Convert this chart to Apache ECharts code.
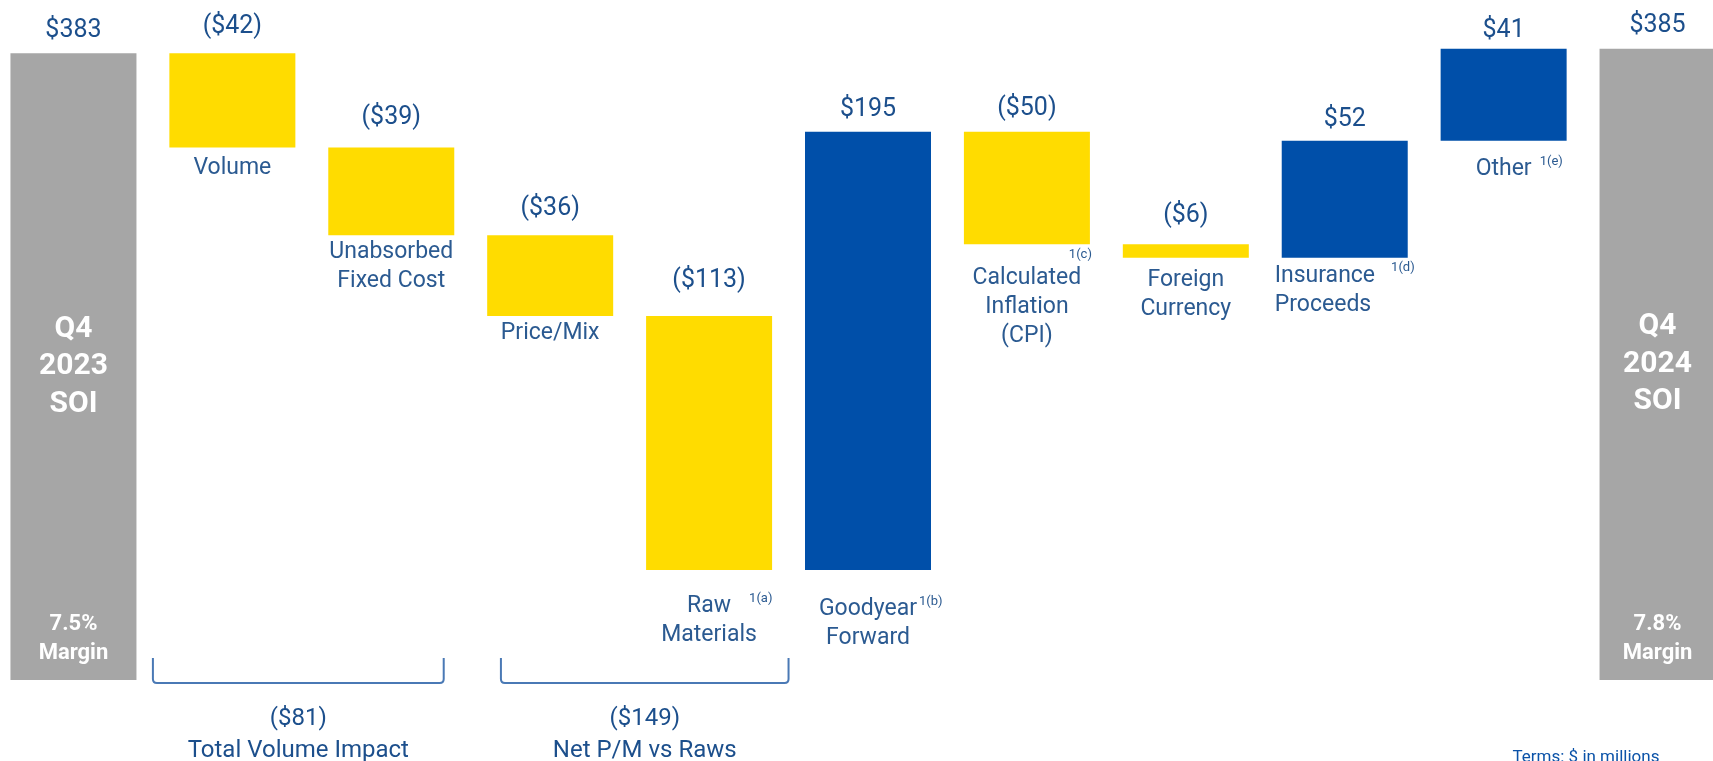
<!DOCTYPE html>
<html>
<head>
<meta charset="utf-8">
<script src="https://cdn.jsdelivr.net/npm/echarts@6/dist/echarts.min.js"></script>
<style>
html,body{margin:0;padding:0;background:#ffffff;overflow:hidden;width:1713px;height:761px;}
#chart{position:absolute;left:-6.5px;top:0;width:1748px;height:761px;}
</style>
</head>
<body>
<div id="chart"></div>
<script>
// ---------------- DATA ----------------
const categories = ['Q4 2023 SOI', 'Volume', 'Unabsorbed\nFixed Cost', 'Price/Mix', 'Raw\nMaterials',
  'Goodyear\nForward', 'Calculated\nInflation\n(CPI)', 'Foreign\nCurrency', 'Insurance\nProceeds', 'Other', 'Q4 2024 SOI'];
const startValue = 383;
const endValue = 385;
const changes = [-42, -39, -36, -113, 195, -50, -6, 52, 41];   // Volume ... Other
const totalTitles = ['Q4\n2023\nSOI', 'Q4\n2024\nSOI'];
const totalMargins = ['7.5%\nMargin', '7.8%\nMargin'];
const footnotes = ['', '', '', '', '1(a)', '1(b)', '1(c)', '', '1(d)', '1(e)', ''];
const bracketFrom = [1, 3];
const bracketTo = [2, 4];
const bracketValues = [-81, -149];
const bracketLabels = ['Total Volume Impact', 'Net P/M vs Raws'];
const unitNote = 'Terms: $ in millions';

// ---------------- STYLE ----------------
const FONT = 'Roboto, "Noto Sans", sans-serif';
const YELLOW = '#FFDC00', BLUE = '#004FA9', GRAY = '#A6A6A6';
const VALUE_COLOR = '#1c4f8c', NAME_COLOR = '#2b5a91', BRACKET_COLOR = '#4a79b5';
const axisMin = 104, axisMax = 404;
const valueLabelGap = [8, 12, 16, 12, 21, 8, 9, 14, 7, 4, 9];
const nameLabelGap  = [0, 6, 3, 3, 22, 25, 4, 8, 4, 14, 0];
const footMode = ['', '', '', '', 'hang', 'hang', 'above', '', 'left', 'hang', ''];
const footGap  = [0, 0, 0, 0, 18, 2, 0, 0, 16, 8, 0];
const bracketPadL = [-0.5, -0.31];
const bracketPadR = [0.33, 0.5];

// ---------------- BUILD ----------------
const n = categories.length;
const base = [], dec = [], inc = [], tot = [];
base.push('-'); dec.push('-'); inc.push('-'); tot.push(startValue);
let run = startValue;
changes.forEach(c => {
  const next = run + c;
  base.push(Math.min(run, next));
  dec.push(c < 0 ? -c : '-');
  inc.push(c > 0 ? c : '-');
  tot.push('-');
  run = next;
});
base.push('-'); dec.push('-'); inc.push('-'); tot.push(endValue);

const measureCtx = document.createElement('canvas').getContext('2d');
function textWidth(t, size) {
  measureCtx.font = size + 'px ' + FONT;
  return measureCtx.measureText(t).width;
}

function nameLabel(i) {
  const lines = categories[i].split('\n');
  const fn = footnotes[i], mode = footMode[i], gap = footGap[i];
  const rich = {
    n: { fontSize: 23, lineHeight: 29, color: NAME_COLOR, fontFamily: FONT },
    s: { fontSize: 13, lineHeight: 14, verticalAlign: 'top', color: NAME_COLOR, fontFamily: FONT }
  };
  const rest = lines.slice(1).map(l => '{n|' + l + '}');
  let text;
  if (!fn) {
    text = lines.map(l => '{n|' + l + '}').join('\n');
  } else if (mode === 'hang') {
    rich.sp = { width: textWidth(fn, 13) + gap, fontSize: 13 };
    rich.s.padding = [0, 0, 0, gap];
    text = ['{sp|}{n|' + lines[0] + '}{s|' + fn + '}'].concat(rest).join('\n');
  } else if (mode === 'above') {
    rich.s.align = 'right';
    rich.s.lineHeight = 16;
    rich.s.width = 130;
    text = ['{s|' + fn + '}'].concat(lines.map(l => '{n|' + l + '}')).join('\n');
  } else {
    rich.n.align = 'left';
    rich.s.align = 'left';
    rich.s.padding = [0, 0, 0, gap];
    text = ['{n|' + lines[0] + '}{s|' + fn + '}'].concat(rest).join('\n');
  }
  return { show: true, position: 'insideTop', distance: nameLabelGap[i], formatter: text, rich: rich };
}

const valueStyle = { fontSize: 25, lineHeight: 28, color: VALUE_COLOR, fontFamily: FONT };
function fmtChange(v, neg) { return neg ? '($' + v + ')' : '$' + v; }

const baseData = base.map((v, i) => v === '-' ? '-' : { value: v, label: nameLabel(i) });
const decData = dec.map((v, i) => v === '-' ? '-' : {
  value: v, label: Object.assign({ show: true, position: 'top', distance: valueLabelGap[i], formatter: fmtChange(v, true) }, valueStyle)
});
const incData = inc.map((v, i) => v === '-' ? '-' : {
  value: v, label: Object.assign({ show: true, position: 'top', distance: valueLabelGap[i], formatter: fmtChange(v, false) }, valueStyle)
});
const totIdx = [0, n - 1];
const lastShift = i => [i === n - 1 ? -5 : 0, 0];
const totData = tot.map((v, i) => v === '-' ? '-' : {
  value: v, label: Object.assign({ show: true, position: 'top', distance: valueLabelGap[i], formatter: '$' + v, offset: lastShift(i) }, valueStyle)
});
const titleData = tot.map((v, i) => v === '-' ? '-' : {
  value: v, label: { show: true, position: 'inside', formatter: totalTitles[totIdx.indexOf(i)],
    fontSize: 30, fontWeight: 'bold', lineHeight: 37.5, color: '#ffffff', fontFamily: FONT, offset: lastShift(i) }
});
const marginData = tot.map((v, i) => v === '-' ? '-' : {
  value: v, label: { show: true, position: 'insideBottom', distance: 12, formatter: totalMargins[totIdx.indexOf(i)],
    fontSize: 22, fontWeight: 'bold', lineHeight: 29, color: '#ffffff', fontFamily: FONT, offset: lastShift(i) }
});

const bracketData = bracketFrom.map((f, k) => [f, bracketTo[k], bracketValues[k], k]);

const BW = 126;
const option = {
  animation: false,
  backgroundColor: '#ffffff',
  title: {
    text: unitNote, left: 1518.5, top: 749, padding: 0,
    textStyle: { fontSize: 17, fontWeight: 'normal', color: '#0a52a8', fontFamily: FONT }
  },
  grid: { left: 0, right: 0, top: 6, bottom: 81 },
  xAxis: { type: 'category', data: categories, show: false },
  yAxis: { type: 'value', min: axisMin, max: axisMax, show: false, splitLine: { show: false } },
  series: [
    { name: 'base', type: 'bar', stack: 'wf', barWidth: BW, barGap: '-100%', silent: true,
      itemStyle: { color: 'transparent' }, data: baseData },
    { name: 'decrease', type: 'bar', stack: 'wf', barWidth: BW, barGap: '-100%',
      itemStyle: { color: YELLOW }, data: decData },
    { name: 'increase', type: 'bar', stack: 'wf', barWidth: BW, barGap: '-100%',
      itemStyle: { color: BLUE }, data: incData },
    { name: 'total', type: 'bar', stack: 'wf', barWidth: BW, barGap: '-100%',
      itemStyle: { color: GRAY }, data: totData },
    { name: 'totalTitle', type: 'bar', barWidth: BW, barGap: '-100%', silent: true,
      itemStyle: { color: 'transparent' }, data: titleData },
    { name: 'totalMargin', type: 'bar', barWidth: BW, barGap: '-100%', silent: true,
      itemStyle: { color: 'transparent' }, data: marginData },
    { name: 'brackets', type: 'custom', silent: true, clip: false,
      data: bracketData,
      renderItem: function (params, api) {
        const k = api.value(3);
        const band = api.size([1, 0])[0];
        const p1 = api.coord([api.value(0), axisMin]);
        const p2 = api.coord([api.value(1), axisMin]);
        const x1 = p1[0] + bracketPadL[k] * band;
        const x2 = p2[0] + bracketPadR[k] * band;
        const yb = p1[1];
        const top = yb - 22, bot = yb + 3, r = 4;
        const cx = (x1 + x2) / 2;
        const v = api.value(2);
        return {
          type: 'group',
          children: [
            { type: 'path',
              shape: { pathData: 'M' + x1 + ' ' + top + ' L' + x1 + ' ' + (bot - r) + ' Q' + x1 + ' ' + bot + ' ' + (x1 + r) + ' ' + bot +
                ' L' + (x2 - r) + ' ' + bot + ' Q' + x2 + ' ' + bot + ' ' + x2 + ' ' + (bot - r) + ' L' + x2 + ' ' + top },
              style: { fill: 'none', stroke: BRACKET_COLOR, lineWidth: 2 } },
            { type: 'text', x: cx, y: yb + 39,
              style: { text: v < 0 ? '($' + (-v) + ')' : '$' + v, fill: VALUE_COLOR, font: '24px ' + FONT, align: 'center', verticalAlign: 'middle' } },
            { type: 'text', x: cx, y: yb + 71,
              style: { text: bracketLabels[k], fill: VALUE_COLOR, font: '24px ' + FONT, align: 'center', verticalAlign: 'middle' } }
          ]
        };
      }
    }
  ]
};

const chart = echarts.init(document.getElementById('chart'), null, { renderer: 'canvas' });
chart.setOption(option);
</script>
</body>
</html>
